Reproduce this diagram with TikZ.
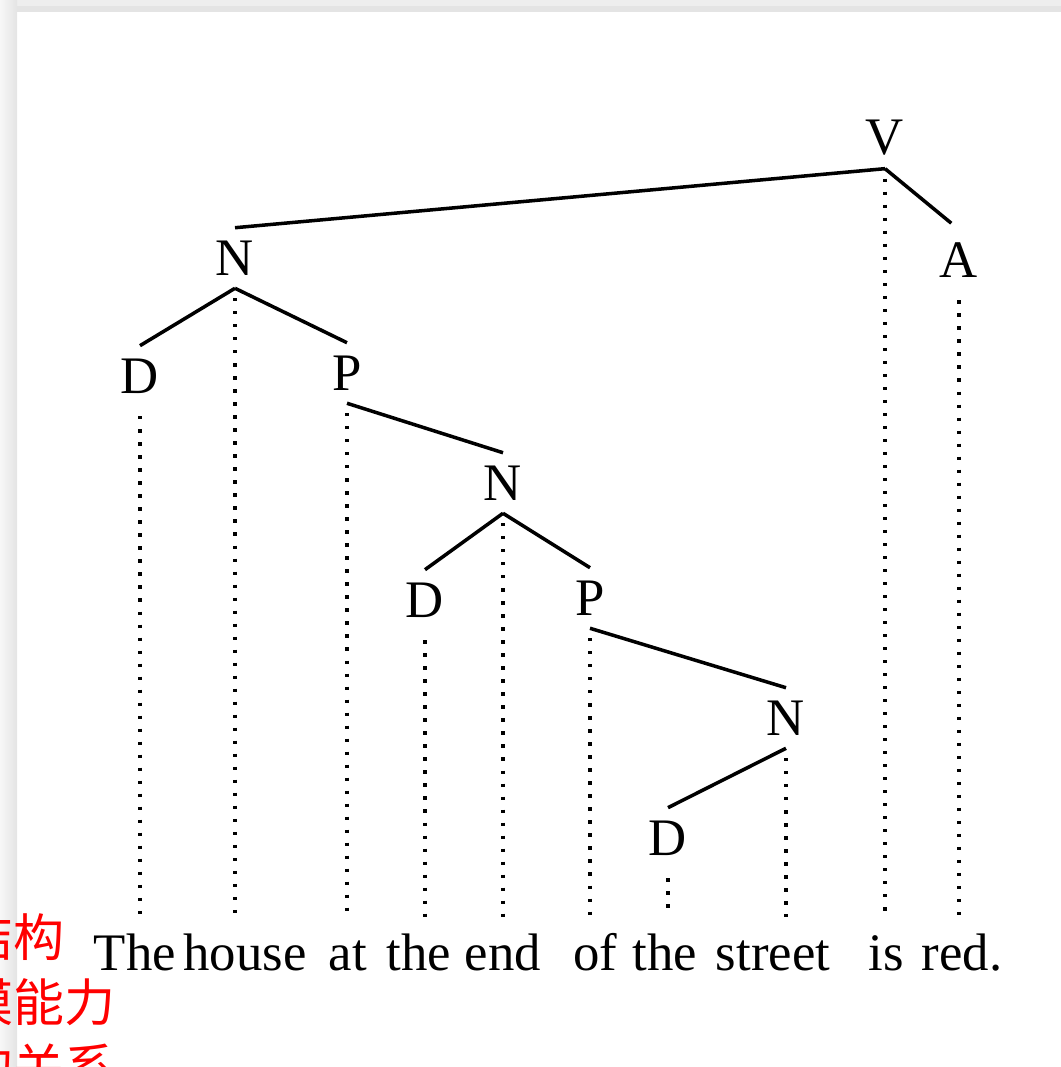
\documentclass[tikz,border=0pt]{standalone}
\usepackage{fontspec}
\setmainfont{Liberation Serif}
\newfontfamily\cjk{Noto Sans CJK SC}
\usepackage{tikz}
\usetikzlibrary{positioning,calc}
\usepackage{xcolor}
\definecolor{rimlight}{HTML}{F7F7F7}
\definecolor{rimmid}{HTML}{EEEEEE}
\definecolor{rimdark}{HTML}{E4E4E4}
\newcommand\treefont{\fontsize{15}{18}\selectfont}

\begin{document}
\begin{tikzpicture}[x=0.01cm,y=-0.01cm,
  cat/.style={font=\treefont,inner sep=1.3mm,outer sep=0pt},
  word/.style={font=\treefont,anchor=base,inner sep=0pt,text height=15pt,text depth=3pt},
  edge/.style={line width=1pt,draw=black},
  dots/.style={line width=.9pt,draw=black,dash pattern=on .9pt off 2.8pt,shorten <=1mm},
  note/.style={font=\cjk\fontsize{14.5}{16}\selectfont,text=red,anchor=base west,inner sep=0pt}]
\useasboundingbox (0,0) rectangle (1061,1067);
\begin{scope}
\clip (0,0) rectangle (1061,1067);
\fill[rimmid] (0,0) rectangle (1061,6);
\fill[rimdark] (17,6) rectangle (1061,12);
\shade[left color=rimlight,right color=rimdark] (0,0) rectangle (17,1067);
\node[note] (c1) at (-38,956) {结构};
\node[note] (c2) at (-38,1021) {模能力};
\node[note] (c3) at (-38,1086) {的关系};
\end{scope}
\node[cat] (v) at (885,138) {V};
\node[cat] (n1) at (235,258) {N};
\node[cat] (a) at (959,260) {A};
\node[cat] (d1) at (140,376) {D};
\node[cat] (p1) at (347,373) {P};
\node[cat] (n2) at (503,483) {N};
\node[cat] (d2) at (425,600) {D};
\node[cat] (p2) at (590,598) {P};
\node[cat] (n3) at (786,718) {N};
\node[cat] (d3) at (668,838) {D};
\node[word] (w1) at (135,970) {The};
\node[word] (w2) at (245,970) {house};
\node[word] (w3) at (348,970) {at};
\node[word] (w4) at (419,970) {the};
\node[word] (w5) at (503,970) {end};
\node[word] (w6) at (595,970) {of};
\node[word] (w7) at (665,970) {the};
\node[word] (w8) at (773,970) {street};
\node[word] (w9) at (886,970) {is};
\node[word] (w10) at (962,970) {red.};
\draw[edge] (v.south) -- (n1.north);
\draw[edge,shorten >=1mm] (v.south) -- (a.north);
\draw[edge] (n1.south) -- (d1.north);
\draw[edge] (n1.south) -- (p1.north);
\draw[edge] (p1.south) -- (n2.north);
\draw[edge] (n2.south) -- (d2.north);
\draw[edge] (n2.south) -- (p2.north);
\draw[edge] (p2.south) -- (n3.north);
\draw[edge] (n3.south) -- (d3.north);
\draw[dots] (d1.south) -- (d1.south |- w1.north);
\draw[dots] (n1.south) -- (n1.south |- w2.north);
\draw[dots] (p1.south) -- (p1.south |- w3.north);
\draw[dots] (d2.south) -- (d2.south |- w4.north);
\draw[dots] (n2.south) -- (n2.south |- w5.north);
\draw[dots] (p2.south) -- (p2.south |- w6.north);
\draw[dots] (d3.south) -- (d3.south |- w7.north);
\draw[dots] (n3.south) -- (n3.south |- w8.north);
\draw[dots] (v.south) -- (v.south |- w9.north);
\draw[dots] (a.south) -- (a.south |- w10.north);
\end{tikzpicture}
\end{document}
